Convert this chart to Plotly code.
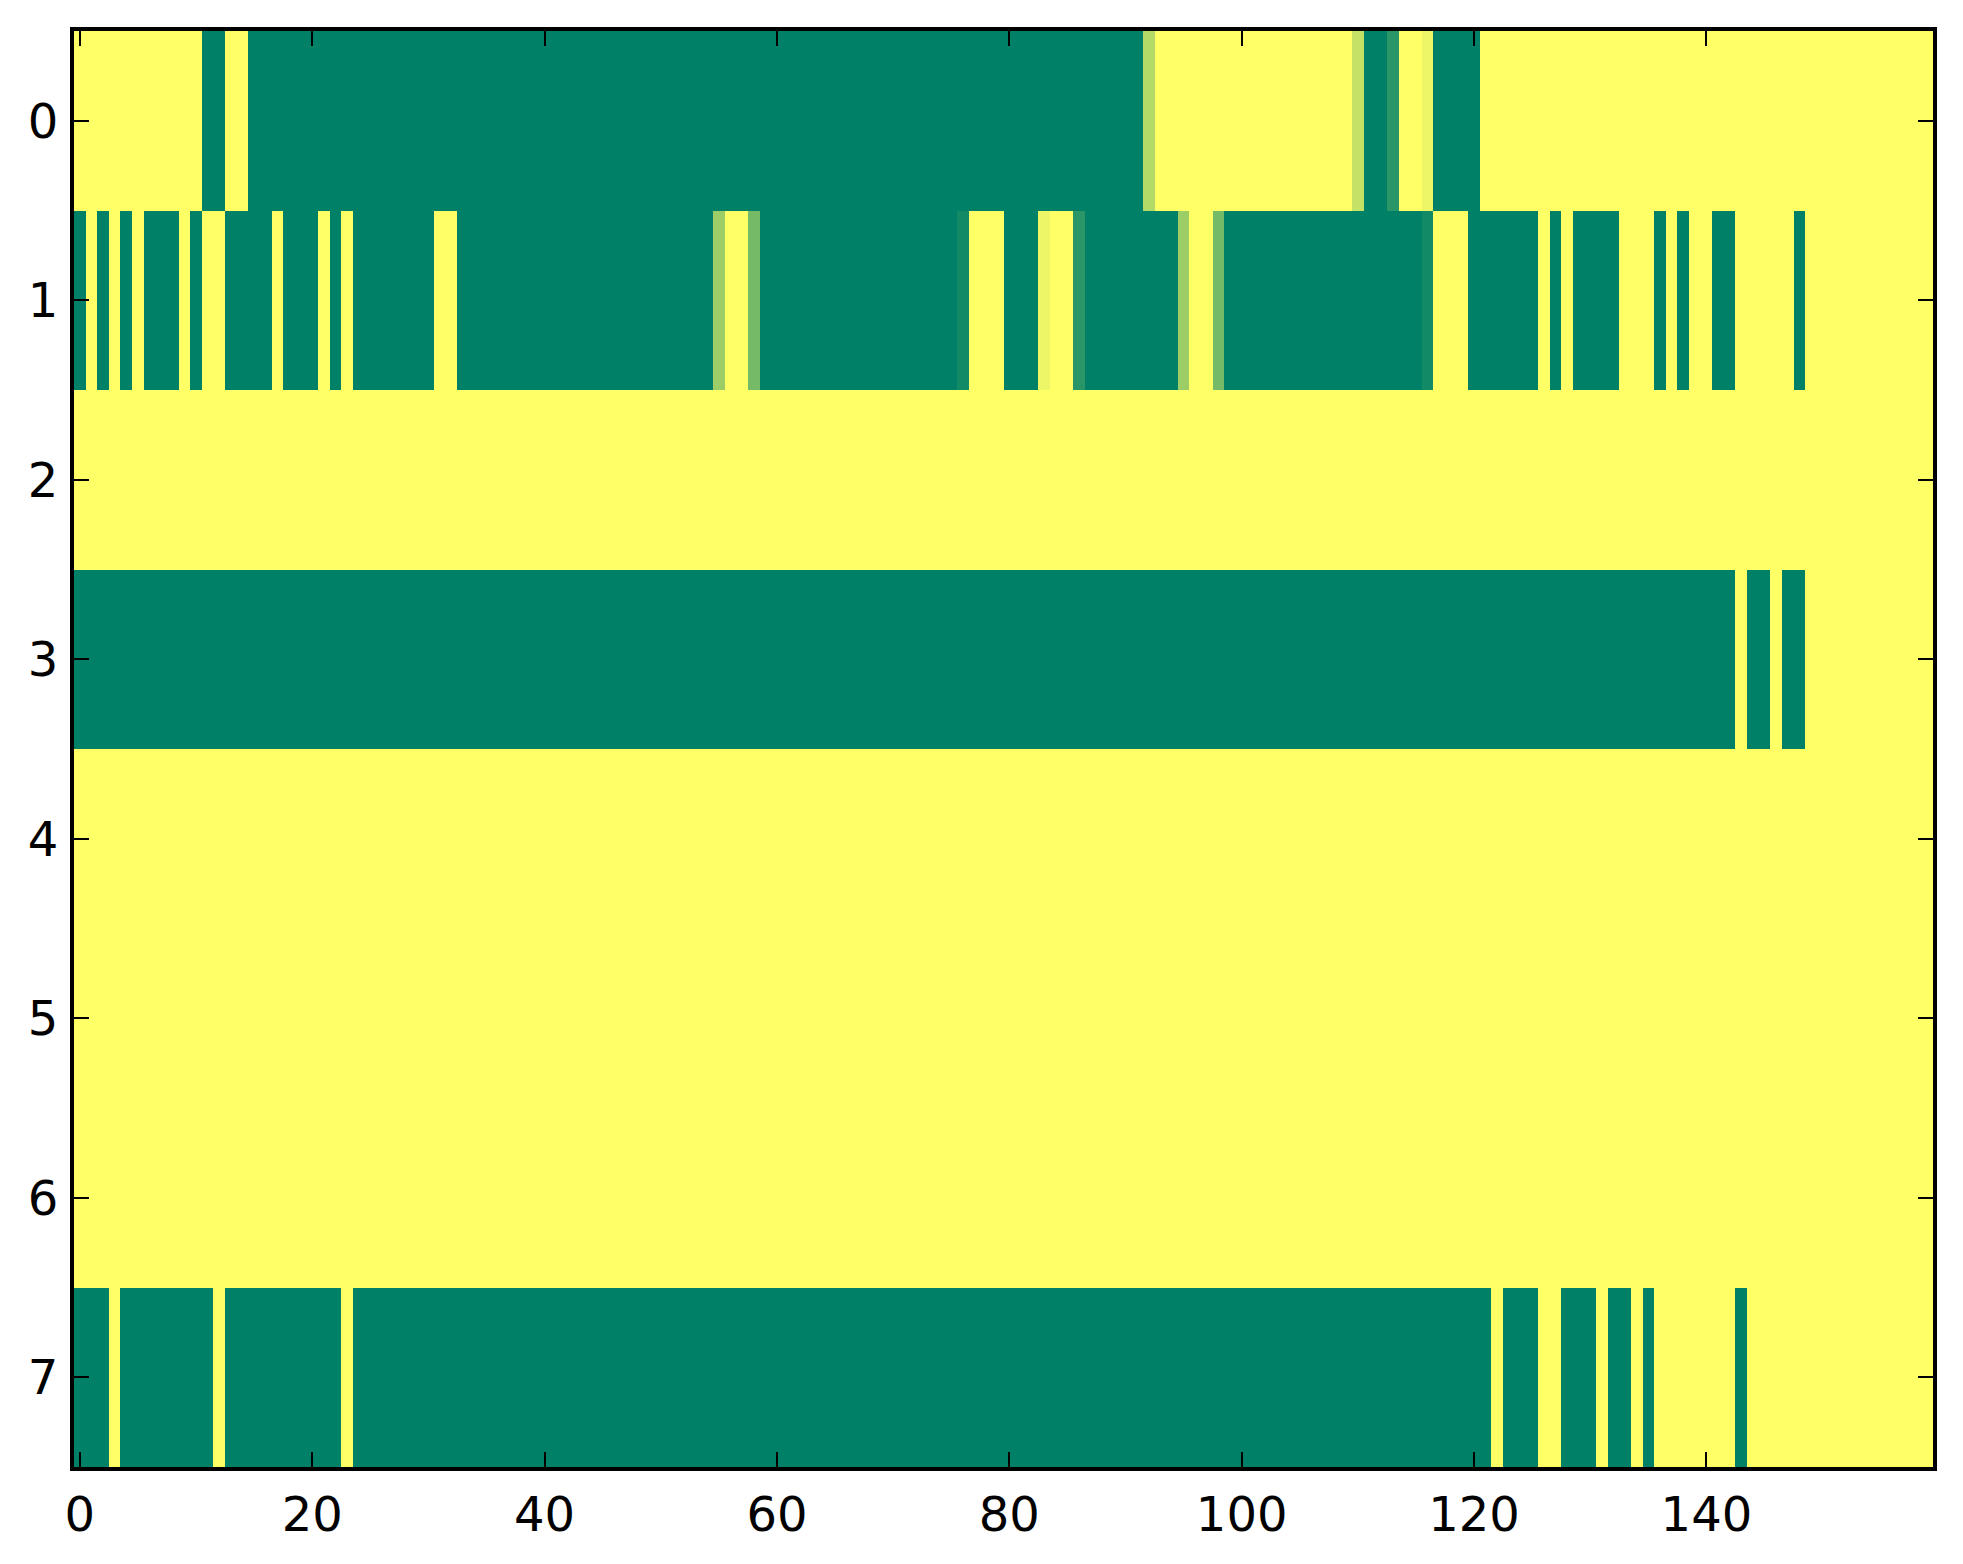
import plotly.graph_objects as go

# cell values, as (value, run length) along each row
row0_runs = [(1, 11), (0, 2), (1, 2), (0, 77), (0.70, 1), (1, 17), (0.77, 1), (0, 2),
             (0.165, 1), (1, 2), (0.93, 1), (0, 4), (1, 39)]
row1_runs = [(0, 1), (1, 1), (0, 1), (1, 1), (0, 1), (1, 1), (0, 3), (1, 1), (0, 1), (1, 2),
             (0, 4), (1, 1), (0, 3), (1, 1), (0, 1), (1, 1), (0, 7), (1, 2), (0, 22),
             (0.61, 1), (1, 2), (0.46, 1), (0, 17), (0.075, 1), (1, 3), (0, 3), (0.93, 1),
             (1, 2), (0.165, 1), (0, 8), (0.61, 1), (1, 2), (0.46, 1), (0, 17), (0.075, 1),
             (1, 3), (0, 6), (1, 1), (0, 1), (1, 1), (0, 4), (1, 3), (0, 1), (1, 1), (0, 1),
             (1, 2), (0, 2), (1, 5), (0, 1), (1, 11)]
row2_runs = [(1, 160)]
row3_runs = [(0, 143), (1, 1), (0, 2), (1, 1), (0, 2), (1, 11)]
row4_runs = [(1, 160)]
row5_runs = [(1, 160)]
row6_runs = [(1, 160)]
row7_runs = [(0, 3), (1, 1), (0, 8), (1, 1), (0, 10), (1, 1), (0, 98), (1, 1), (0, 3),
             (1, 2), (0, 3), (1, 1), (0, 2), (1, 1), (0, 1), (1, 7), (0, 1), (1, 16)]

x_ticks = [0, 20, 40, 60, 80, 100, 120, 140]
y_ticks = [0, 1, 2, 3, 4, 5, 6, 7]


def expand(runs):
    out = []
    for val, n in runs:
        out.extend([val] * n)
    return out


rows = [row0_runs, row1_runs, row2_runs, row3_runs, row4_runs, row5_runs, row6_runs, row7_runs]
z = [expand(r) for r in rows]
n_cols = len(z[0])

# matplotlib "summer" colormap is a straight ramp between these two
summer = [[0, "rgb(0,128,102)"], [1, "rgb(255,255,102)"]]

fig = go.Figure(go.Heatmap(
    z=z,
    x=list(range(n_cols)),
    y=list(range(len(z))),
    colorscale=summer,
    zmin=0, zmax=1,
    showscale=False,
    hoverinfo="skip",
))

axis_style = dict(
    showline=True, linewidth=4, linecolor="black", mirror="ticks",
    ticks="inside", ticklen=15, tickwidth=2, tickcolor="black",
    showgrid=False, zeroline=False,
    tickfont=dict(family="DejaVu Sans", size=48, color="black"),
)

fig.update_xaxes(range=[-0.5, n_cols - 0.5], tickvals=x_ticks, ticklabelstandoff=2, **axis_style)
fig.update_yaxes(range=[len(z) - 0.5, -0.5], tickvals=y_ticks, ticklabelstandoff=2, **axis_style)

# page body adds an 8px offset, so the figure is a bit smaller than the window
fig.update_layout(
    width=1947, height=1548,
    margin=dict(l=66, r=22, t=23, b=89),
    paper_bgcolor="white",
    plot_bgcolor="white",
)

fig.write_html("out.html")
